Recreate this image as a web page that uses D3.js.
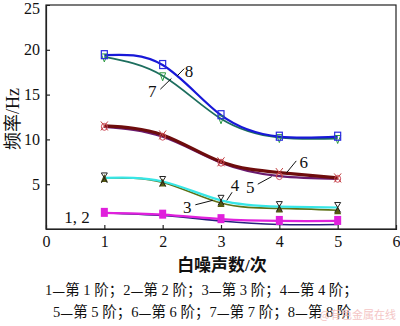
<!DOCTYPE html>
<html>
<head>
<meta charset="utf-8">
<script src="https://cdn.jsdelivr.net/npm/d3@7"></script>
<style>
  html, body { margin: 0; padding: 0; background: #fff; }
  svg { display: block; }
</style>
</head>
<body>
<svg id="chart" width="400" height="326"></svg>
<script>
// White-noise count vs. modal frequency for modes 1-8
const noiseCounts = [1, 2, 3, 4, 5];
const xTicks = [0, 1, 2, 3, 4, 5, 6];
const yTicks = [5, 10, 15, 20, 25];

const mode1 = [1.8, 1.5, 0.9, 0.5, 0.5];
const mode2 = [1.8, 1.6, 1.1, 0.9, 0.9];
const mode3 = [5.7, 5.2, 2.9, 2.3, 2.1];
const mode4 = [5.7, 5.3, 3.2, 2.5, 2.4];
const mode5 = [11.4, 10.3, 7.4, 5.9, 5.6];
const mode6 = [11.5, 10.5, 7.5, 6.3, 5.7];
const mode7 = [19.2, 17.1, 12.3, 10.2, 10.1];
const mode8 = [19.4, 18.3, 12.7, 10.3, 10.3];

const xTitle = "白噪声数/次";
const yTitle = "频率/Hz";
const legendLines = [
  "1—第 1 阶；2—第 2 阶；3—第 3 阶；4—第 4 阶；",
  "5—第 5 阶；6—第 6 阶；7—第 7 阶；8—第 8 阶"
];

const SERIF = "'Liberation Serif', 'Times New Roman', 'Noto Sans CJK SC', serif";
const CJK = "'Noto Sans CJK SC', sans-serif";

const series = [
  { values: mode1, color: "#26207e", width: 1.6, marker: "none" },
  { values: mode2, color: "#e020dc", width: 2.2, marker: "fsquare", mcolor: "#e020dc" },
  { values: mode3, color: "#5e7016", width: 1.6, marker: "ftri", mcolor: "#555a10" },
  { values: mode4, color: "#38e6e6", width: 2.2, marker: "bowtie", mcolor: "#222" },
  { values: mode5, color: "#6a1a6e", width: 2.2, marker: "circle", mcolor: "#d05060" },
  { values: mode6, color: "#6e0c0c", width: 3.2, marker: "xcircle", mcolor: "#c04040" },
  { values: mode7, color: "#1d6e5e", width: 1.8, marker: "tridown", mcolor: "#2a9a40" },
  { values: mode8, color: "#1818d8", width: 2.2, marker: "osquare", mcolor: "#2a2ae0" }
];

const svg = d3.select("#chart");
const plotL = 46, plotR = 396, plotT = 5, plotB = 229;

const x = d3.scaleLinear().domain([0, 6]).range([plotL, plotR]);
const y = d3.scaleLinear().domain([0, 25]).range([plotB, plotT]);

// frame
svg.append("rect")
  .attr("x", plotL).attr("y", plotT)
  .attr("width", plotR - plotL).attr("height", plotB - plotT)
  .attr("fill", "none").attr("stroke", "#222").attr("stroke-width", 1.2);

// axes with inward ticks
const xAxis = svg.append("g").attr("transform", `translate(0,${plotB})`)
  .call(d3.axisBottom(x).tickValues(xTicks).tickSize(-4).tickPadding(7).tickFormat(d3.format("d")));
const yAxis = svg.append("g").attr("transform", `translate(${plotL},0)`)
  .call(d3.axisLeft(y).tickValues(yTicks).tickSize(-4).tickPadding(6).tickFormat(d3.format("d")));
[xAxis, yAxis].forEach(g => {
  g.attr("font-family", SERIF).attr("font-size", 16);
  g.select(".domain").attr("stroke", "#222").attr("stroke-width", 1.2);
  g.selectAll(".tick line").attr("stroke", "#222").attr("stroke-width", 1.2);
  g.selectAll(".tick text").attr("fill", "#111");
});
xAxis.selectAll(".tick").filter(d => d === 0 || d === 6).select("line").remove();
yAxis.selectAll(".tick").filter(d => d === 25).select("line").remove();
// keep the top label inside the page
yAxis.selectAll(".tick").filter(d => d === 25).select("text").attr("dy", "0.55em");

// curves
const line = d3.line()
  .x((d, i) => x(noiseCounts[i]))
  .y(d => y(d))
  .curve(d3.curveNatural);

const plot = svg.append("g");
series.forEach(s => {
  plot.append("path")
    .attr("d", line(s.values))
    .attr("fill", "none")
    .attr("stroke", s.color)
    .attr("stroke-width", s.width)
    .attr("stroke-linejoin", "round");
});

// markers
function drawMarker(g, type, cx, cy, c) {
  switch (type) {
    case "fsquare":
      g.append("rect").attr("x", cx - 3.5).attr("y", cy - 5).attr("width", 7).attr("height", 9).attr("fill", c);
      break;
    case "osquare":
      g.append("rect").attr("x", cx - 3).attr("y", cy - 4.5).attr("width", 6).attr("height", 8)
        .attr("fill", "none").attr("stroke", c).attr("stroke-width", 1.2);
      break;
    case "ftri":
      g.append("path").attr("d", `M${cx},${cy - 4} L${cx + 3.5},${cy + 4} L${cx - 3.5},${cy + 4} Z`).attr("fill", c);
      break;
    case "tridown":
      g.append("path").attr("d", `M${cx - 3},${cy - 3} L${cx + 3},${cy - 3} L${cx},${cy + 5} Z`)
        .attr("fill", "none").attr("stroke", c).attr("stroke-width", 1);
      break;
    case "bowtie":
      g.append("path").attr("d", `M${cx - 3},${cy - 5} L${cx + 3},${cy + 5} M${cx + 3},${cy - 5} L${cx - 3},${cy + 5} M${cx - 3},${cy - 5} L${cx + 3},${cy - 5}`)
        .attr("fill", "none").attr("stroke", c).attr("stroke-width", 1);
      break;
    case "circle":
      g.append("ellipse").attr("cx", cx).attr("cy", cy).attr("rx", 3).attr("ry", 3.5)
        .attr("fill", "none").attr("stroke", c).attr("stroke-width", 1);
      break;
    case "xcircle":
      g.append("path").attr("d", `M${cx - 3.5},${cy - 4.5} L${cx + 3.5},${cy + 4.5} M${cx + 3.5},${cy - 4.5} L${cx - 3.5},${cy + 4.5}`)
        .attr("fill", "none").attr("stroke", c).attr("stroke-width", 1);
      break;
  }
}
series.forEach(s => {
  if (s.marker === "none") return;
  const g = plot.append("g");
  s.values.forEach((v, i) => drawMarker(g, s.marker, x(noiseCounts[i]), y(v), s.mcolor));
});

// curve labels with leader lines, placed in data units
const callouts = [
  { text: "8", at: [2.45, 17.6], lead: [[2.25, 17.1], [2.37, 17.9]] },
  { text: "7", at: [1.82, 15.3], lead: [[1.96, 15.6], [2.15, 16.8]] },
  { text: "6", at: [4.42, 7.4], lead: [[4.12, 6.25], [4.29, 7.6]] },
  { text: "5", at: [3.50, 4.6], lead: [[3.63, 5.0], [3.87, 5.85]] },
  { text: "4", at: [3.24, 4.9], lead: [[3.10, 3.2], [3.19, 4.1]] },
  { text: "3", at: [2.42, 2.4], lead: [[2.56, 2.7], [2.86, 3.2]] },
  { text: "1, 2", at: [0.53, 1.3], lead: null }
];
const notes = svg.append("g");
callouts.forEach(c => {
  notes.append("text")
    .attr("font-family", SERIF)
    .attr("x", x(c.at[0])).attr("y", y(c.at[1]))
    .attr("text-anchor", "middle").attr("dominant-baseline", "central")
    .attr("font-size", 17).attr("fill", "#111")
    .text(c.text);
  if (c.lead) {
    notes.append("line")
      .attr("x1", x(c.lead[0][0])).attr("y1", y(c.lead[0][1]))
      .attr("x2", x(c.lead[1][0])).attr("y2", y(c.lead[1][1]))
      .attr("stroke", "#111").attr("stroke-width", 1);
  }
});

// axis titles
svg.append("text")
  .attr("font-family", SERIF)
  .attr("transform", "translate(13,119) rotate(-90)")
  .attr("text-anchor", "middle").attr("dominant-baseline", "central")
  .attr("font-size", 18).attr("fill", "#111")
  .text(yTitle);
svg.append("text")
  .attr("font-family", SERIF)
  .attr("x", 222).attr("y", 265)
  .attr("text-anchor", "middle").attr("dominant-baseline", "central")
  .attr("font-size", 17).attr("font-weight", "bold").attr("fill", "#111")
  .text(xTitle);

// mode key; the dash uses the full-width CJK glyph
legendLines.forEach((t, i) => {
  const txt = svg.append("text")
    .attr("font-family", SERIF)
    .attr("x", i === 0 ? 45 : 53).attr("y", 290 + i * 22)
    .attr("dominant-baseline", "central")
    .attr("font-size", 14.5).attr("fill", "#111");
  t.split("—").forEach((part, j) => {
    if (j > 0) txt.append("tspan").attr("font-family", CJK).text("—");
    txt.append("tspan").text(part);
  });
});

// site mark, faint, at the lower right
svg.append("text")
  .attr("font-family", CJK)
  .attr("x", 396).attr("y", 314)
  .attr("text-anchor", "end").attr("dominant-baseline", "central")
  .attr("font-size", 11).attr("fill", "#f2b8b8").attr("opacity", 0.8)
  .text("@有色金属在线");
</script>
</body>
</html>
